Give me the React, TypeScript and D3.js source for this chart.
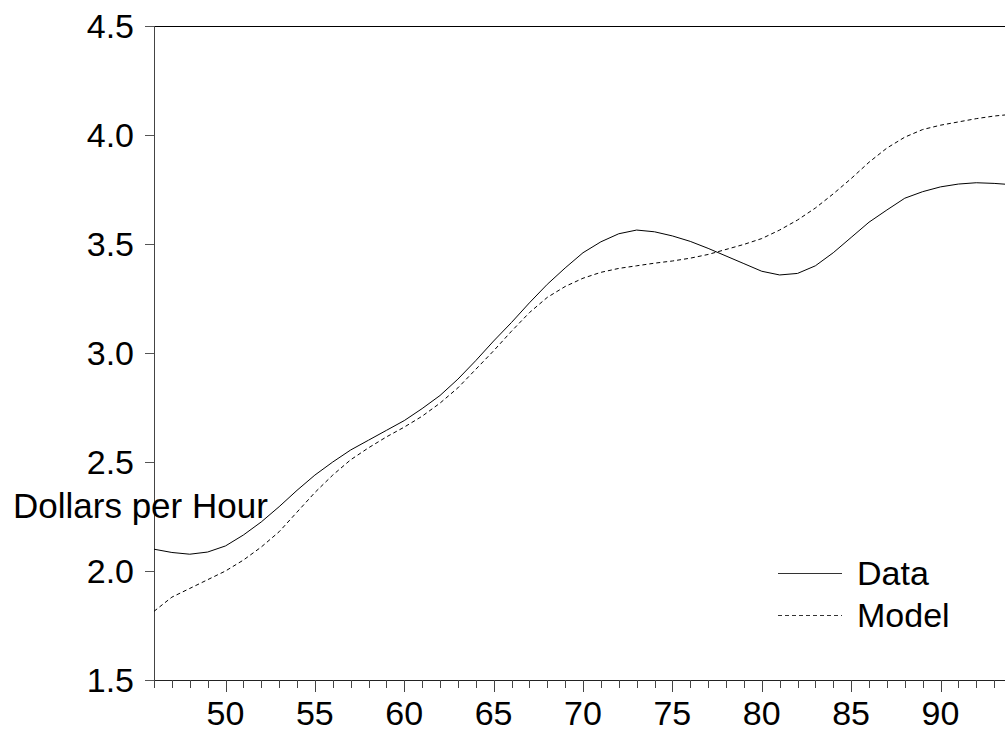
import React, { useRef, useEffect } from "react";
import * as d3 from "d3";

// years 1946..1994 (two-digit labels)
const years = d3.range(46, 95);

const dataValues = [
  2.1, 2.085, 2.077, 2.087, 2.115, 2.165, 2.225, 2.295, 2.37, 2.44,
  2.5, 2.555, 2.6, 2.645, 2.69, 2.745, 2.805, 2.88, 2.965, 3.055,
  3.14, 3.23, 3.315, 3.39, 3.46, 3.51, 3.547, 3.564, 3.556, 3.537,
  3.512, 3.48, 3.445, 3.41, 3.375, 3.358, 3.365, 3.4, 3.46, 3.53,
  3.6, 3.656, 3.71, 3.74, 3.762, 3.775, 3.781, 3.778, 3.772,
];

const modelValues = [
  1.815, 1.88, 1.92, 1.96, 2.0, 2.05, 2.11, 2.18, 2.27, 2.36,
  2.44, 2.51, 2.565, 2.615, 2.66, 2.71, 2.77, 2.84, 2.925, 3.01,
  3.1, 3.185, 3.255, 3.305, 3.343, 3.37, 3.388, 3.4, 3.412, 3.422,
  3.435, 3.452, 3.475, 3.498, 3.525, 3.564, 3.61, 3.665, 3.73, 3.8,
  3.875, 3.94, 3.99, 4.025, 4.045, 4.06, 4.075, 4.087, 4.095,
];

const yTicks = [1.5, 2.0, 2.5, 3.0, 3.5, 4.0, 4.5];
const xLabelTicks = [50, 55, 60, 65, 70, 75, 80, 85, 90];

const width = 1005;
const height = 738;
const font = "'Liberation Sans', Arial, sans-serif";

export default function App() {
  const ref = useRef<SVGSVGElement>(null);

  useEffect(() => {
    const svg = d3.select(ref.current);
    svg.selectAll("*").remove();

    const left = 154;
    const top = 26;
    const bottom = 680;

    const x = d3.scaleLinear().domain([46, 94]).range([left, 1012]);
    const y = d3.scaleLinear().domain([1.5, 4.5]).range([bottom, top]);

    // frame top line
    svg
      .append("line")
      .attr("x1", left)
      .attr("x2", width)
      .attr("y1", top + 0.5)
      .attr("y2", top + 0.5)
      .attr("stroke", "#000")
      .attr("stroke-width", 1);

    // left axis
    svg
      .append("line")
      .attr("x1", left + 0.5)
      .attr("x2", left + 0.5)
      .attr("y1", top)
      .attr("y2", bottom)
      .attr("stroke", "#444");

    // bottom axis
    svg
      .append("line")
      .attr("x1", left)
      .attr("x2", width)
      .attr("y1", bottom + 0.5)
      .attr("y2", bottom + 0.5)
      .attr("stroke", "#222");

    // y ticks + labels
    const yg = svg.append("g");
    yTicks.forEach(t => {
      yg.append("line")
        .attr("x1", left - 9)
        .attr("x2", left)
        .attr("y1", Math.round(y(t)) + 0.5)
        .attr("y2", Math.round(y(t)) + 0.5)
        .attr("stroke", "#555");
      yg.append("text")
        .attr("x", 134)
        .attr("y", y(t))
        .attr("dy", "0.35em")
        .attr("text-anchor", "end")
        .attr("font-family", font)
        .attr("font-size", 34)
        .attr("fill", "#000")
        .text(d3.format(".1f")(t));
    });

    // x ticks, minor each year, major every 5
    const xg = svg.append("g");
    years.forEach(yr => {
      const major = yr % 5 === 0;
      xg.append("line")
        .attr("x1", Math.round(x(yr)) + 0.5)
        .attr("x2", Math.round(x(yr)) + 0.5)
        .attr("y1", bottom)
        .attr("y2", bottom + (major ? 12 : 8))
        .attr("stroke", "#444");
    });
    xLabelTicks.forEach(t => {
      xg.append("text")
        .attr("x", x(t))
        .attr("y", 725)
        .attr("text-anchor", "middle")
        .attr("font-family", font)
        .attr("font-size", 34)
        .attr("fill", "#000")
        .text(t);
    });

    // axis title
    svg
      .append("text")
      .attr("x", 13)
      .attr("y", 518)
      .attr("font-family", font)
      .attr("font-size", 35)
      .attr("fill", "#000")
      .text("Dollars per Hour");

    const line = d3
      .line<number>()
      .x((d, i) => x(years[i]))
      .y(d => y(d));

    svg
      .append("path")
      .datum(modelValues)
      .attr("d", line)
      .attr("fill", "none")
      .attr("stroke", "#000")
      .attr("stroke-width", 1)
      .attr("stroke-dasharray", "4,3");

    svg
      .append("path")
      .datum(dataValues)
      .attr("d", line)
      .attr("fill", "none")
      .attr("stroke", "#000")
      .attr("stroke-width", 1);

    // legend
    const legend = [
      { name: "Data", dash: null, ly: 573 },
      { name: "Model", dash: "4,3", ly: 615 },
    ];
    legend.forEach(l => {
      svg
        .append("line")
        .attr("x1", 778)
        .attr("x2", 842)
        .attr("y1", l.ly + 0.5)
        .attr("y2", l.ly + 0.5)
        .attr("stroke", "#333")
        .attr("stroke-dasharray", l.dash);
      svg
        .append("text")
        .attr("x", 857)
        .attr("y", l.ly + 12)
        .attr("font-family", font)
        .attr("font-size", 34)
        .attr("fill", "#000")
        .text(l.name);
    });
  }, []);

  return (
    <svg
      ref={ref}
      width={width}
      height={height}
      style={{ position: "absolute", left: 0, top: 0, background: "#fff" }}
    />
  );
}
